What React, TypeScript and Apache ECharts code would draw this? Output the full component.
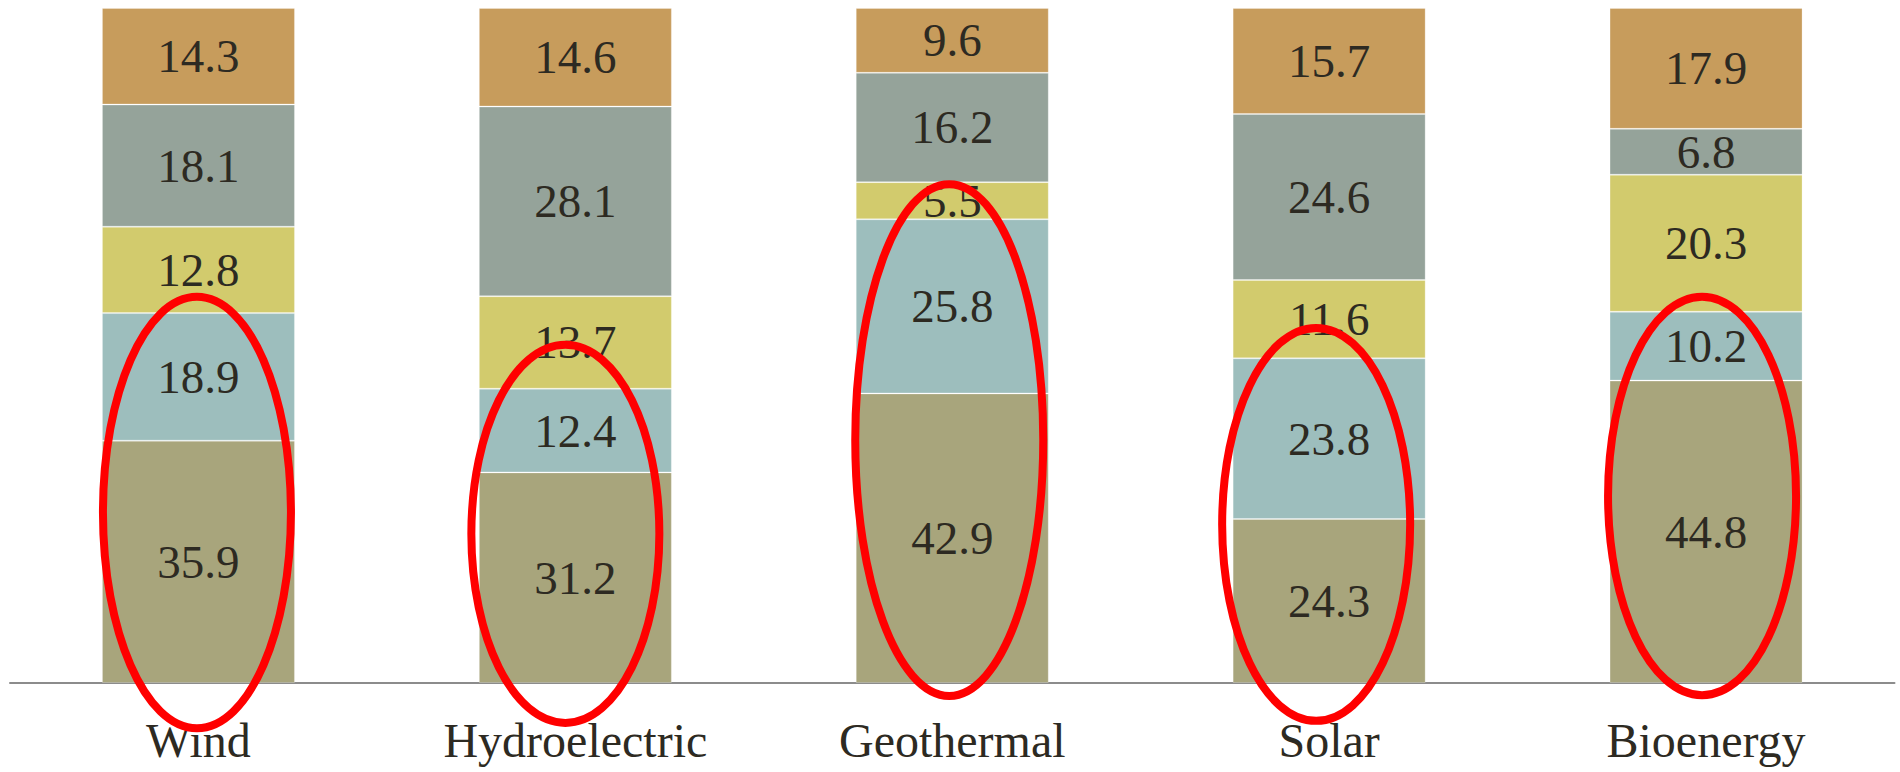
import React, { useEffect, useRef } from "react";
import * as echarts from "echarts";

// Energy sources along the x axis
const categories = ["Wind", "Hydroelectric", "Geothermal", "Solar", "Bioenergy"];

// Stacked shares (bottom to top), each column sums to 100
const share1 = [35.9, 31.2, 42.9, 24.3, 44.8];
const share2 = [18.9, 12.4, 25.8, 23.8, 10.2];
const share3 = [12.8, 13.7, 5.5, 11.6, 20.3];
const share4 = [18.1, 28.1, 16.2, 24.6, 6.8];
const share5 = [14.3, 14.6, 9.6, 15.7, 17.9];

const seriesNames = ["Share 1", "Share 2", "Share 3", "Share 4", "Share 5"];
const seriesData = [share1, share2, share3, share4, share5];
const seriesColors = ["#A8A57C", "#9DBEBD", "#D2CB6D", "#95A39A", "#C79C5C"];

// Red highlight rings: vertical span in axis units and a small horizontal nudge (px)
const ringTop = [57.8, 50.7, 74.5, 53.2, 57.8];
const ringBottom = [-7.3, -6.5, -2.5, -6.2, -2.4];
const ringShift = [-1.5, -10, -3, -13, -4];

const FONT = "'Liberation Serif', 'DejaVu Serif', serif";
const TEXT_COLOR = "#2d2a22";

export default function App() {
  const ref = useRef<HTMLDivElement>(null);

  useEffect(() => {
    document.body.style.margin = "0";
    if (!ref.current) return;
    const chart = echarts.init(ref.current, undefined, { renderer: "svg" });

    chart.setOption({
      animation: false,
      backgroundColor: "#ffffff",
      grid: { left: 10, right: 5.5, top: 8, bottom: 89, containLabel: false },
      xAxis: {
        type: "category",
        data: categories,
        axisLine: { show: true, lineStyle: { color: "#8c8c8c", width: 2 } },
        axisTick: { show: false },
        axisLabel: {
          color: TEXT_COLOR,
          fontFamily: FONT,
          fontSize: 48,
          margin: 33,
        },
      },
      yAxis: {
        type: "value",
        min: 0,
        max: 100,
        show: false,
        splitLine: { show: false },
      },
      series: seriesData.map((d, i) => ({
        name: seriesNames[i],
        type: "bar",
        stack: "total",
        barWidth: 193,
        data: d,
        itemStyle: {
          color: seriesColors[i],
          borderColor: "rgba(255,255,255,0.25)",
          borderWidth: 1,
        },
        label: {
          show: true,
          position: "inside",
          color: TEXT_COLOR,
          fontFamily: FONT,
          fontSize: 47,
          formatter: (p: any) => Number(p.value).toFixed(1),
        },
      })),
    });

    // Highlight ellipses anchored to each category column
    const stroke = 8;
    const rx = 94;
    const rings = categories.map((c, i) => {
      const top = chart.convertToPixel({ xAxisIndex: 0, yAxisIndex: 0 }, [c, ringTop[i]]) as number[];
      const bot = chart.convertToPixel({ xAxisIndex: 0, yAxisIndex: 0 }, [c, ringBottom[i]]) as number[];
      const cy = (top[1] + bot[1]) / 2;
      const ry = (bot[1] - top[1]) / 2 - stroke / 2;
      return {
        type: "ellipse",
        shape: { cx: top[0] + ringShift[i], cy, rx, ry },
        style: { fill: "none", stroke: "#ff0000", lineWidth: stroke },
        z: 100,
      };
    });
    chart.setOption({ graphic: rings });

    return () => chart.dispose();
  }, []);

  return <div ref={ref} style={{ width: 1900, height: 772, overflow: "hidden" }} />;
}
